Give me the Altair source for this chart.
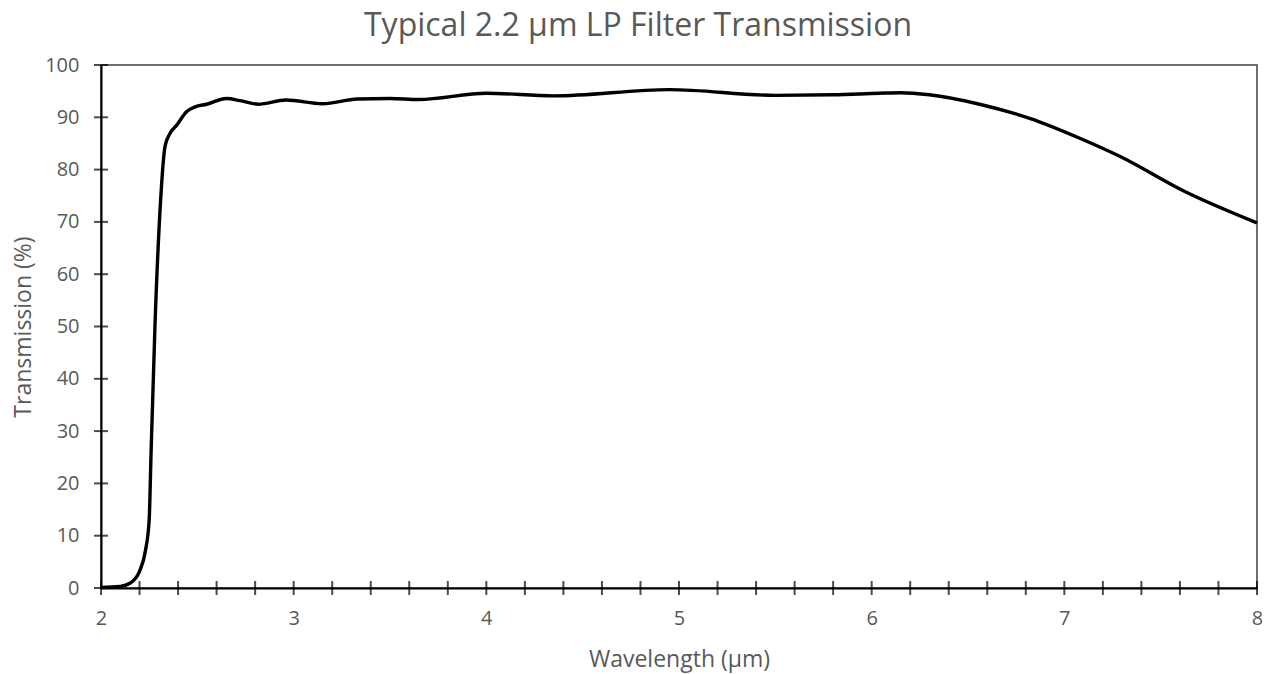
import altair as alt
import pandas as pd

wavelength = [2.0, 2.1, 2.15, 2.2, 2.23, 2.25, 2.26, 2.28, 2.31, 2.332, 2.358, 2.393, 2.445,
              2.488, 2.549, 2.652, 2.721, 2.816, 2.96, 3.15, 3.33, 3.5, 3.65, 4.0, 4.35, 4.95,
              5.5, 5.8, 6.04, 6.15, 6.30, 6.56, 6.82, 7.08, 7.29, 7.62, 8.0]
transmission = [0.1, 0.3, 0.9, 3.2, 7.0, 13.0, 26.0, 50.0, 74.5, 84.4, 86.9, 88.5, 91.1,
                92.0, 92.5, 93.6, 93.2, 92.5, 93.3, 92.6, 93.5, 93.6, 93.4, 94.6, 94.1, 95.3,
                94.2, 94.3, 94.6, 94.7, 94.3, 92.5, 89.8, 86.0, 82.5, 75.9, 69.8]
x_ticks = [round(2 + 0.2 * i, 1) for i in range(31)]
y_ticks = [0, 10, 20, 30, 40, 50, 60, 70, 80, 90, 100]
x_labels = [2, 3, 4, 5, 6, 7, 8]

df = pd.DataFrame({"w": wavelength, "t": transmission})
xt = pd.DataFrame({"w": x_ticks, "t": [0] * len(x_ticks)})
yt = pd.DataFrame({"w": [2] * len(y_ticks), "t": y_ticks})

FONT = "Open Sans"
GRAY = "#595959"
W, H = 1156, 523

xs = alt.Scale(domain=[2, 8], nice=False)
ys = alt.Scale(domain=[0, 100], nice=False)

line = alt.Chart(df).mark_line(color="black", strokeWidth=3.4, interpolate="monotone").encode(
    x=alt.X("w:Q", scale=xs, title="Wavelength (µm)",
            axis=alt.Axis(values=x_labels, format="d", tickSize=0, labelPadding=20,
                          labelFlush=False, domainColor="black", domainWidth=2, grid=False,
                          titleX=W / 2, titleY=71, titleBaseline="middle")),
    y=alt.Y("t:Q", scale=ys, title="Transmission (%)",
            axis=alt.Axis(values=y_ticks, format="d", tickSize=0, labelPadding=22,
                          labelFlush=False, domainColor="black", domainWidth=2, grid=False,
                          titleX=-78, titleY=H / 2, titleBaseline="middle", titleAngle=270)),
)

xtick = alt.Chart(xt).mark_tick(color="black", thickness=2, size=14, orient="vertical", clip=False).encode(
    x=alt.X("w:Q", scale=xs), y=alt.Y("t:Q", scale=ys))
ytick = alt.Chart(yt).mark_tick(color="black", thickness=2, size=14, orient="horizontal", clip=False).encode(
    x=alt.X("w:Q", scale=xs), y=alt.Y("t:Q", scale=ys))

chart = alt.layer(line, xtick, ytick).properties(
    width=W, height=H,
    title=alt.TitleParams("Typical 2.2 µm LP Filter Transmission", fontSize=32, font=FONT,
                          color=GRAY, fontWeight="normal", offset=12, dx=-41),
    autosize=alt.AutoSizeParams(type="none"),
    padding={"left": 93, "top": 57, "right": 5, "bottom": 90},
).configure_view(stroke="#404040", strokeWidth=1.5).configure_axis(
    labelFont=FONT, titleFont=FONT, labelFontSize=20, titleFontSize=23,
    labelColor=GRAY, titleColor=GRAY, titleFontWeight="normal"
)

chart.save("out.html", embed_options={"renderer": "svg", "actions": False})
